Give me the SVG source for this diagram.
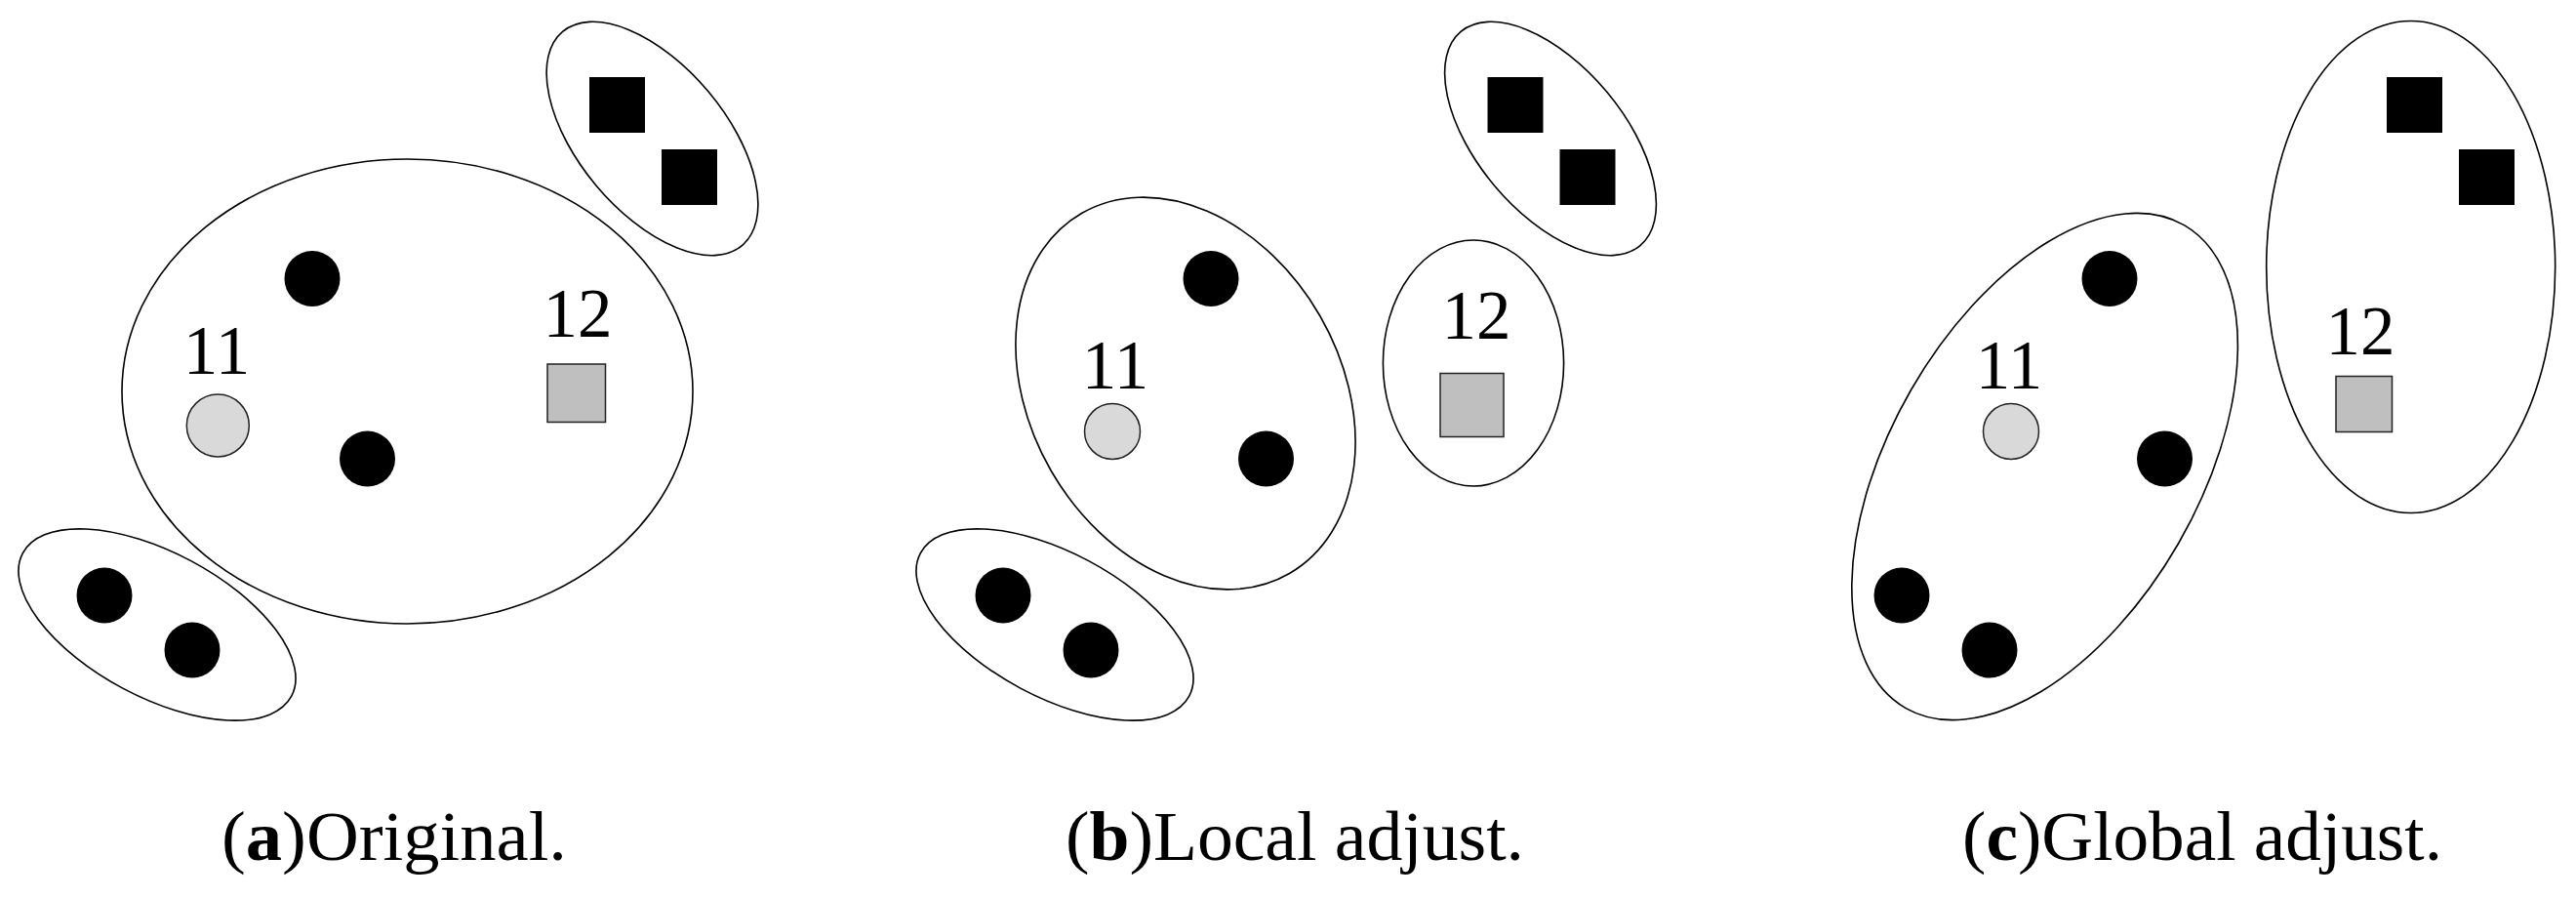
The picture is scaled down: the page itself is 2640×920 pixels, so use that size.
<svg xmlns="http://www.w3.org/2000/svg" width="2640" height="920" viewBox="0 0 2640 920">
<style>
.grp{fill:none;stroke:#000;stroke-width:1.6}
.dot{fill:#000}
.sq{fill:#000}
.lc{fill:#d9d9d9;stroke:#222;stroke-width:1.5}
.gs{fill:#bfbfbf;stroke:#222;stroke-width:1.5}
.num{font-family:"Liberation Serif","Times New Roman",serif;font-size:71px;fill:#000;text-anchor:middle}
.cap{font-family:"Liberation Serif","Times New Roman",serif;font-size:72px;fill:#000}
.b{font-weight:bold}
</style>
<rect width="2640" height="920" fill="#fff"/>
<!-- Panel (a) -->
<g id="panel-a">
  <g id="a-cluster-main"><ellipse class="grp" cx="417.5" cy="401" rx="292.5" ry="238"/></g>
  <g id="a-cluster-squares"><ellipse class="grp" cx="668.5" cy="142" rx="143" ry="75" transform="rotate(50 668.5 142)"/></g>
  <g id="a-cluster-dots"><ellipse class="grp" cx="161" cy="640" rx="156" ry="74" transform="rotate(28 161 640)"/></g>
  <g id="a-sq1"><rect class="sq" x="604" y="79" width="57" height="57"/></g>
  <g id="a-sq2"><rect class="sq" x="678" y="153" width="57" height="57"/></g>
  <g id="a-d1"><circle class="dot" cx="320" cy="285.5" r="28.5"/></g>
  <g id="a-d2"><circle class="dot" cx="376.5" cy="470" r="28.5"/></g>
  <g id="a-d3"><circle class="dot" cx="107" cy="610" r="28.5"/></g>
  <g id="a-d4"><circle class="dot" cx="197" cy="666" r="28.5"/></g>
  <g id="a-n11"><circle class="lc" cx="223.3" cy="436" r="32"/><text class="num" x="222" y="383">11</text></g>
  <g id="a-n12"><rect class="gs" x="561" y="373" width="59.5" height="59.5"/><text class="num" x="592" y="345">12</text></g>
  <text class="cap" x="227" y="881" textLength="354" lengthAdjust="spacingAndGlyphs">(<tspan class="b">a</tspan>)Original.</text>
</g>
<!-- Panel (b) -->
<g id="panel-b">
  <g id="b-cluster-main"><ellipse class="grp" cx="1215" cy="403" rx="213" ry="159" transform="rotate(60 1215 403)"/></g>
  <g id="b-cluster-12"><ellipse class="grp" cx="1510" cy="372" rx="92.6" ry="126"/></g>
  <g id="b-cluster-squares"><ellipse class="grp" cx="1589" cy="142" rx="143" ry="75" transform="rotate(50 1589 142)"/></g>
  <g id="b-cluster-dots"><ellipse class="grp" cx="1081" cy="640" rx="156" ry="74" transform="rotate(28 1081 640)"/></g>
  <g id="b-sq1"><rect class="sq" x="1524.5" y="79" width="57" height="57"/></g>
  <g id="b-sq2"><rect class="sq" x="1598.5" y="153" width="57" height="57"/></g>
  <g id="b-d1"><circle class="dot" cx="1241" cy="285.5" r="28.5"/></g>
  <g id="b-d2"><circle class="dot" cx="1297.5" cy="470" r="28.5"/></g>
  <g id="b-d3"><circle class="dot" cx="1028" cy="610" r="28.5"/></g>
  <g id="b-d4"><circle class="dot" cx="1118" cy="666" r="28.5"/></g>
  <g id="b-n11"><circle class="lc" cx="1140" cy="442" r="28.5"/><text class="num" x="1143" y="398">11</text></g>
  <g id="b-n12"><rect class="gs" x="1476" y="382.5" width="65" height="65"/><text class="num" x="1513" y="347">12</text></g>
  <text class="cap" x="1092" y="881" textLength="470" lengthAdjust="spacingAndGlyphs">(<tspan class="b">b</tspan>)Local adjust.</text>
</g>
<!-- Panel (c) -->
<g id="panel-c">
  <g id="c-cluster-left"><ellipse class="grp" cx="2095.6" cy="478" rx="285.6" ry="158" transform="rotate(-60 2095.6 478)"/></g>
  <g id="c-cluster-right"><ellipse class="grp" cx="2470.7" cy="273.5" rx="148" ry="252"/></g>
  <g id="c-sq1"><rect class="sq" x="2446" y="79" width="57" height="57"/></g>
  <g id="c-sq2"><rect class="sq" x="2520" y="153" width="57" height="57"/></g>
  <g id="c-d1"><circle class="dot" cx="2162" cy="285.5" r="28.5"/></g>
  <g id="c-d2"><circle class="dot" cx="2218.5" cy="470" r="28.5"/></g>
  <g id="c-d3"><circle class="dot" cx="1949" cy="610" r="28.5"/></g>
  <g id="c-d4"><circle class="dot" cx="2039" cy="666" r="28.5"/></g>
  <g id="c-n11"><circle class="lc" cx="2061" cy="442" r="28.5"/><text class="num" x="2059" y="398">11</text></g>
  <g id="c-n12"><rect class="gs" x="2394" y="385.5" width="57.5" height="57"/><text class="num" x="2419" y="363">12</text></g>
  <text class="cap" x="2011" y="881" textLength="492" lengthAdjust="spacingAndGlyphs">(<tspan class="b">c</tspan>)Global adjust.</text>
</g>
<g id="connectors"/>
</svg>
